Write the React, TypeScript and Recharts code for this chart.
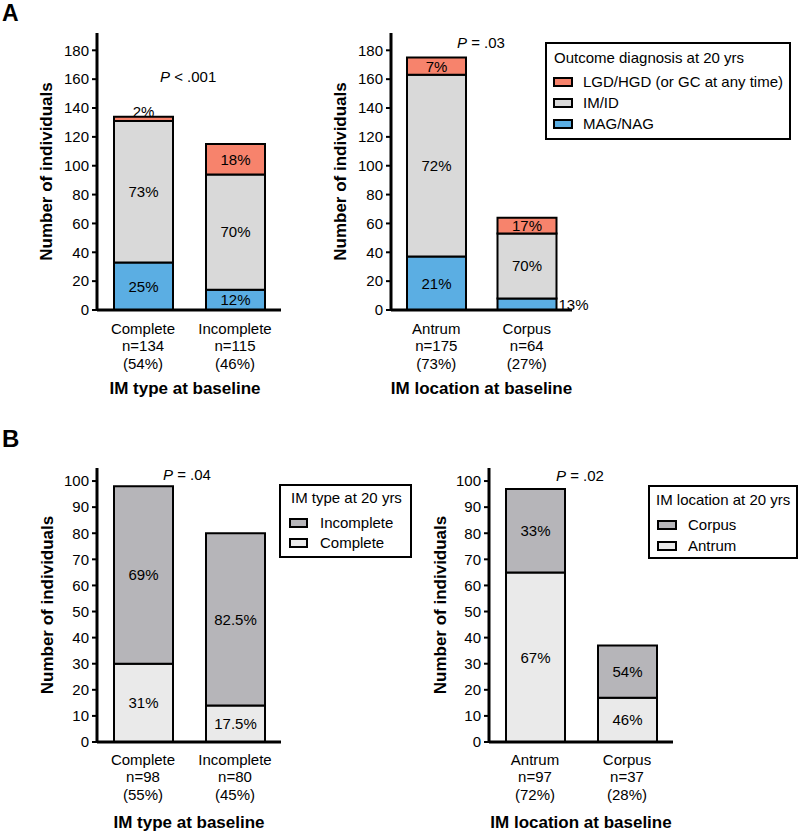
import React from 'react';
import { BarChart, Bar, XAxis, YAxis, LabelList, Legend } from 'recharts';

const FONT = '"Liberation Sans", Arial, Helvetica, sans-serif';

// ---------- Panel A, left: IM type at baseline ----------
const typeCategories = ['Complete', 'Incomplete'];
const typeN = ['n=134', 'n=115'];
const typeShare = ['(54%)', '(46%)'];
const typeMag = [33, 14];
const typeImid = [98, 80];
const typeLgd = [3, 21];
const typeMagPct = ['25%', '12%'];
const typeImidPct = ['73%', '70%'];
const typeLgdPct = ['2%', '18%'];

// ---------- Panel A, right: IM location at baseline ----------
const locCategories = ['Antrum', 'Corpus'];
const locN = ['n=175', 'n=64'];
const locShare = ['(73%)', '(27%)'];
const locMag = [37, 8];
const locImid = [126, 45];
const locLgd = [12, 11];
const locMagPct = ['21%', '13%'];
const locImidPct = ['72%', '70%'];
const locLgdPct = ['7%', '17%'];

// ---------- Panel B, left: IM type at 20 yrs ----------
const bTypeCategories = ['Complete', 'Incomplete'];
const bTypeN = ['n=98', 'n=80'];
const bTypeShare = ['(55%)', '(45%)'];
const bTypeComplete = [30, 14];
const bTypeIncomplete = [68, 66];
const bTypeCompletePct = ['31%', '17.5%'];
const bTypeIncompletePct = ['69%', '82.5%'];

// ---------- Panel B, right: IM location at 20 yrs ----------
const bLocCategories = ['Antrum', 'Corpus'];
const bLocN = ['n=97', 'n=37'];
const bLocShare = ['(72%)', '(28%)'];
const bLocAntrum = [65, 17];
const bLocCorpus = [32, 20];
const bLocAntrumPct = ['67%', '46%'];
const bLocCorpusPct = ['33%', '54%'];

const yTicksA = [0, 20, 40, 60, 80, 100, 120, 140, 160, 180];
const yTicksB = [0, 10, 20, 30, 40, 50, 60, 70, 80, 90, 100];

const COLORS = {
  lgd: '#F7836C',
  imid: '#D9D9D9',
  mag: '#5BAEE3',
  incomplete: '#B6B5B9',
  complete: '#EAEAEA',
};

const dataTypeA = typeCategories.map((c, i) => ({
  cat: c, mag: typeMag[i], imid: typeImid[i], lgd: typeLgd[i],
  magL: typeMagPct[i], imidL: typeImidPct[i], lgdL: typeLgdPct[i],
}));
const dataLocA = locCategories.map((c, i) => ({
  cat: c, mag: locMag[i], imid: locImid[i], lgd: locLgd[i],
  magL: locMagPct[i], imidL: locImidPct[i], lgdL: locLgdPct[i],
}));
const dataTypeB = bTypeCategories.map((c, i) => ({
  cat: c, low: bTypeComplete[i], high: bTypeIncomplete[i],
  lowL: bTypeCompletePct[i], highL: bTypeIncompletePct[i],
}));
const dataLocB = bLocCategories.map((c, i) => ({
  cat: c, low: bLocAntrum[i], high: bLocCorpus[i],
  lowL: bLocAntrumPct[i], highL: bLocCorpusPct[i],
}));

const makeLabel = (placements: string[]) => (props: any) => {
  const { x, y, width, height, value, index } = props;
  const pos = placements[index] || 'center';
  let tx = Number(x) + Number(width) / 2;
  let ty = Number(y) + Number(height) / 2 + 5.4;
  let anchor: any = 'middle';
  if (pos === 'top') {
    ty = Number(y);
  } else if (pos === 'right') {
    tx = Number(x) + Number(width) + 2;
    anchor = 'start';
  }
  return (
    <text x={tx} y={ty} textAnchor={anchor} fontSize={15} fontFamily={FONT} fill="#000">
      {value}
    </text>
  );
};

const renderTick = (lines: string[][], dy: number) => (tp: any) => {
  const { x, y, payload } = tp;
  const idx = tp.index != null ? tp.index : payload.index;
  const ls = lines[idx] || [String(payload.value)];
  return (
    <g transform={`translate(${x},${y})`}>
      <text x={0} y={0} textAnchor="middle" fontSize={15} fontFamily={FONT} fill="#000">
        {ls.map((l, i) => (
          <tspan key={i} x={0} dy={i === 0 ? dy : 17.5}>{l}</tspan>
        ))}
      </text>
    </g>
  );
};

type LegendItem = { label: string; color: string; y: number };
type LegendSpec = {
  left: number; top: number; width: number; height: number;
  title: string; titleX: number; titleY: number;
  items: LegendItem[]; swatchX: number; swatchW: number; textX: number;
};

const LegendBox = ({ spec }: { spec: LegendSpec }) => (
  <div
    style={{
      position: 'relative', width: spec.width, height: spec.height, boxSizing: 'border-box',
      border: '2px solid #000', background: '#fff', fontFamily: FONT, fontSize: 15, color: '#000',
    }}
  >
    <div style={{ position: 'absolute', left: spec.titleX - 2, top: spec.titleY - 2 - 9, lineHeight: '18px', whiteSpace: 'nowrap' }}>
      {spec.title}
    </div>
    {spec.items.map((it) => (
      <React.Fragment key={it.label}>
        <div
          style={{
            position: 'absolute', left: spec.swatchX - 2, top: it.y - 2 - 5, width: spec.swatchW, height: 10,
            boxSizing: 'border-box', border: '2px solid #000', background: it.color,
          }}
        />
        <div style={{ position: 'absolute', left: spec.textX - 2, top: it.y - 2 - 9, lineHeight: '18px', whiteSpace: 'nowrap' }}>
          {it.label}
        </div>
      </React.Fragment>
    ))}
  </div>
);

type Series = { key: string; labelKey: string; color: string; placements: string[] };

type PanelProps = {
  left: number; top: number; width: number; height: number;
  margin: { top: number; right: number; left: number; bottom: number };
  yWidth: number; xHeight: number; domain: [number, number]; ticks: number[];
  data: any[]; series: Series[]; tickLines: string[][]; tickDy: number;
  title: string; titleOffset: number; titleDx: number; yLabelOffset: number;
  legend?: LegendSpec;
};

const Panel = (p: PanelProps) => (
  <div style={{ position: 'absolute', left: p.left, top: p.top, width: p.width, height: p.height }}>
    <BarChart width={p.width} height={p.height} data={p.data} margin={p.margin} barSize={59}>
      <XAxis
        dataKey="cat"
        height={p.xHeight}
        interval={0}
        axisLine={{ stroke: '#000', strokeWidth: 3 }}
        tickLine={false}
        tickSize={0}
        tickMargin={0}
        tick={renderTick(p.tickLines, p.tickDy)}
        label={{
          value: p.title, position: 'insideBottom', offset: p.titleOffset, dx: p.titleDx,
          fontSize: 17, fontWeight: 'bold', fontFamily: FONT, fill: '#000',
        }}
      />
      <YAxis
        type="number"
        width={p.yWidth}
        domain={p.domain}
        ticks={p.ticks}
        allowDataOverflow
        axisLine={{ stroke: '#000', strokeWidth: 3 }}
        tickLine={{ stroke: '#000', strokeWidth: 2 }}
        tickSize={5}
        tickMargin={3}
        tick={{ fill: '#000', fontSize: 15, fontFamily: FONT }}
        label={{
          value: 'Number of individuals', angle: -90, position: 'insideLeft', offset: p.yLabelOffset,
          fontSize: 17, fontWeight: 'bold', fontFamily: FONT, fill: '#000',
          style: { textAnchor: 'middle' },
        }}
      />
      {p.series.map((s) => (
        <Bar key={s.key} dataKey={s.key} stackId="a" fill={s.color} stroke="#000" strokeWidth={2} isAnimationActive={false}>
          <LabelList dataKey={s.labelKey} content={makeLabel(s.placements)} />
        </Bar>
      ))}
      {p.legend ? (
        <Legend
          layout="horizontal"
          verticalAlign="middle"
          align="center"
          wrapperStyle={{ left: p.legend.left, top: p.legend.top, width: p.legend.width, height: p.legend.height }}
          content={() => <LegendBox spec={p.legend as LegendSpec} />}
        />
      ) : null}
    </BarChart>
  </div>
);

const Note = ({ x, y, children, size = 15, bold = false }: any) => (
  <div
    style={{
      position: 'absolute', left: x, top: y, fontFamily: FONT, fontSize: size, lineHeight: '24px',
      fontWeight: bold ? 'bold' : 'normal', color: '#000', whiteSpace: 'nowrap',
    }}
  >
    {children}
  </div>
);

const legendA: LegendSpec = {
  left: 545 - 294, top: 42, width: 246, height: 98,
  title: 'Outcome diagnosis at 20 yrs', titleX: 9, titleY: 16,
  items: [
    { label: 'LGD/HGD (or GC at any time)', color: COLORS.lgd, y: 40 },
    { label: 'IM/ID', color: COLORS.imid, y: 61 },
    { label: 'MAG/NAG', color: COLORS.mag, y: 82 },
  ],
  swatchX: 8, swatchW: 20, textX: 38,
};

const legendBType: LegendSpec = {
  left: 279, top: 84, width: 133, height: 74,
  title: 'IM type at 20 yrs', titleX: 12, titleY: 14,
  items: [
    { label: 'Incomplete', color: COLORS.incomplete, y: 39 },
    { label: 'Complete', color: COLORS.complete, y: 59 },
  ],
  swatchX: 10, swatchW: 19, textX: 41,
};
const legendBLoc: LegendSpec = {
  left: 648 - 420, top: 85, width: 150, height: 74,
  title: 'IM location at 20 yrs', titleX: 8, titleY: 15,
  items: [
    { label: 'Corpus', color: COLORS.incomplete, y: 40 },
    { label: 'Antrum', color: COLORS.complete, y: 61 },
  ],
  swatchX: 9, swatchW: 20, textX: 40,
};

const seriesA = (lgdPlace: string[], magPlace: string[]): Series[] => [
  { key: 'mag', labelKey: 'magL', color: COLORS.mag, placements: magPlace },
  { key: 'imid', labelKey: 'imidL', color: COLORS.imid, placements: ['center', 'center'] },
  { key: 'lgd', labelKey: 'lgdL', color: COLORS.lgd, placements: lgdPlace },
];
const seriesB: Series[] = [
  { key: 'low', labelKey: 'lowL', color: COLORS.complete, placements: ['center', 'center'] },
  { key: 'high', labelKey: 'highL', color: COLORS.incomplete, placements: ['center', 'center'] },
];

const lines = (cats: string[], ns: string[], shares: string[]) => cats.map((c, i) => [c, ns[i], shares[i]]);

export default function App() {
  return (
    <div style={{ position: 'absolute', left: 0, top: 0, width: 800, height: 831, background: '#fff', overflow: 'hidden' }}>
      <Panel
        left={0} top={0} width={290} height={400}
        margin={{ top: 33, right: 9, left: 0, bottom: 0 }}
        yWidth={97} xHeight={90} domain={[0, 192]} ticks={yTicksA}
        data={dataTypeA} series={seriesA(['top', 'center'], ['center', 'center'])}
        tickLines={lines(typeCategories, typeN, typeShare)} tickDy={23.5}
        title="IM type at baseline" titleOffset={6} titleDx={-4} yLabelOffset={46}
      />
      <Panel
        left={294} top={0} width={506} height={400}
        margin={{ top: 33, right: 228, left: 0, bottom: 0 }}
        yWidth={97} xHeight={90} domain={[0, 192]} ticks={yTicksA}
        data={dataLocA} series={seriesA(['center', 'center'], ['center', 'right'])}
        tickLines={lines(locCategories, locN, locShare)} tickDy={23.5}
        title="IM location at baseline" titleOffset={6} titleDx={0} yLabelOffset={46}
        legend={legendA}
      />
      <Panel
        left={0} top={400} width={420} height={431}
        margin={{ top: 68, right: 139, left: 0, bottom: 0 }}
        yWidth={97} xHeight={89} domain={[0, 105]} ticks={yTicksB}
        data={dataTypeB} series={seriesB}
        tickLines={lines(bTypeCategories, bTypeN, bTypeShare)} tickDy={22.7}
        title="IM type at baseline" titleOffset={3} titleDx={0} yLabelOffset={47}
        legend={legendBType}
      />
      <Panel
        left={420} top={400} width={380} height={431}
        margin={{ top: 68, right: 127, left: 0, bottom: 0 }}
        yWidth={69} xHeight={89} domain={[0, 105]} ticks={yTicksB}
        data={dataLocB} series={seriesB}
        tickLines={lines(bLocCategories, bLocN, bLocShare)} tickDy={22.7}
        title="IM location at baseline" titleOffset={3} titleDx={0} yLabelOffset={20}
        legend={legendBLoc}
      />
      <Note x={2} y={1} size={23} bold>A</Note>
      <Note x={2} y={427} size={24} bold>B</Note>
      <Note x={160} y={65}><i>P</i> &lt; .001</Note>
      <Note x={457} y={31}><i>P</i> = .03</Note>
      <Note x={163} y={463}><i>P</i> = .04</Note>
      <Note x={556} y={464}><i>P</i> = .02</Note>
    </div>
  );
}
